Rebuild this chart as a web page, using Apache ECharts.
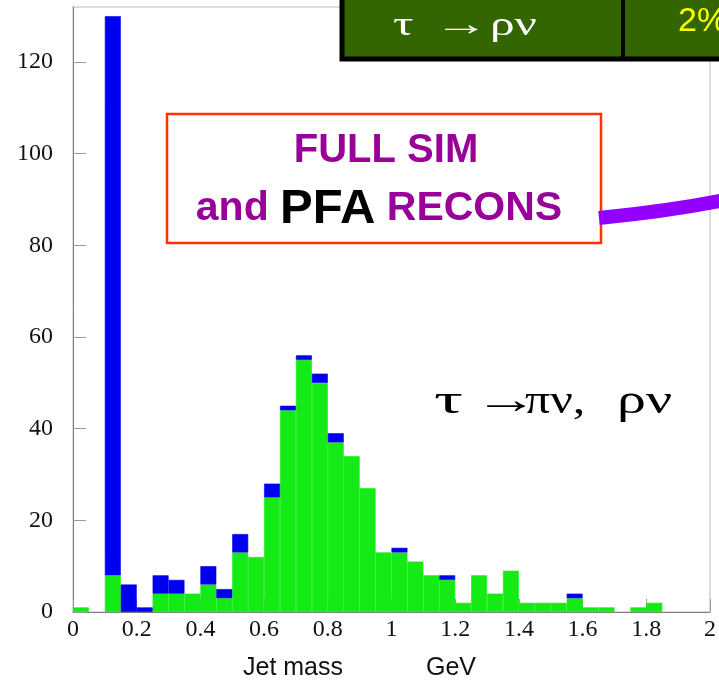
<!DOCTYPE html>
<html>
<head>
<meta charset="utf-8">
<script src="https://cdn.jsdelivr.net/npm/echarts@6/dist/echarts.min.js"></script>
<style>
  html, body { margin: 0; padding: 0; background: #fff; }
  #chart { width: 719px; height: 684px; }
</style>
</head>
<body>
<div id="chart"></div>
<script>
// jet mass bins, 0.05 GeV wide, 0 .. 2 GeV
var binLabels = [];
for (var i = 0; i < 40; i++) { binLabels.push((i * 0.05).toFixed(2)); }

// green = lower part of each bar, blue = part stacked on top
var greenCounts = [1, 0, 8, 0, 0, 4, 4, 4, 6, 3, 13, 12, 25, 44, 55, 50, 37, 34, 27, 13,
                   13, 11, 8, 7, 2, 8, 4, 9, 2, 2, 2, 3, 1, 1, 0, 1, 2, 0, 0, 0];
var blueCounts = [0, 0, 122, 6, 1, 4, 3, 0, 4, 2, 4, 0, 3, 1, 1, 2, 2, 0, 0, 0,
                  1, 0, 0, 1, 0, 0, 0, 0, 0, 0, 0, 1, 0, 0, 0, 0, 0, 0, 0, 0];

var xTicks = [0, 2, 0.2];     // min, max, step (GeV)
var yTicks = [0, 132, 20];    // min, max, step (events)

var chart = echarts.init(document.getElementById('chart'));

var serif = '"Liberation Serif", "Times New Roman", serif';
var sans = '"Liberation Sans", Arial, sans-serif';

// empty bins are left out so their border does not draw a line
function skipEmpty(arr) {
    return arr.map(function (v) { return v === 0 ? '-' : v; });
}

// greek text piece, stretched sideways like the symbol font of the slide
function greek(txt, x, y, size, sx, color) {
    return {
        type: 'text', z: 102, x: x, y: y, scaleX: sx,
        style: {text: txt, fill: color, font: size + 'px ' + serif, align: 'left', verticalAlign: 'middle'}
    };
}

option = {
    animation: false,
    backgroundColor: '#fff',
    grid: {
        left: 73,
        right: 7,
        top: 7,
        bottom: 72,
        show: true,
        borderColor: '#b8b8b8',
        borderWidth: 1
    },
    xAxis: [{
        type: 'category',
        data: binLabels,
        show: false
    }, {
        type: 'value',
        min: xTicks[0],
        max: xTicks[1],
        interval: xTicks[2],
        position: 'bottom',
        splitLine: {show: false},
        axisLine: {show: true, lineStyle: {color: '#808080', width: 1}},
        axisTick: {show: true, inside: true, length: 13, lineStyle: {color: '#999'}},
        axisLabel: {
            margin: 6,
            color: '#111',
            fontFamily: serif,
            fontSize: 24
        }
    }],
    yAxis: {
        type: 'value',
        min: yTicks[0],
        max: yTicks[1],
        interval: yTicks[2],
        splitLine: {show: false},
        axisLine: {show: true, lineStyle: {color: '#808080', width: 1}},
        axisTick: {show: true, inside: true, length: 13, lineStyle: {color: '#999'}},
        axisLabel: {
            margin: 20,
            color: '#111',
            fontFamily: serif,
            fontSize: 24,
            showMaxLabel: false
        }
    },
    series: [{
        name: 'green',
        type: 'bar',
        stack: 'm',
        xAxisIndex: 0,
        data: skipEmpty(greenCounts),
        barCategoryGap: '0%',
        itemStyle: {color: '#14eb14', borderColor: '#14eb14', borderWidth: 0.6}
    }, {
        name: 'blue',
        type: 'bar',
        stack: 'm',
        xAxisIndex: 0,
        data: skipEmpty(blueCounts),
        barCategoryGap: '0%',
        itemStyle: {color: '#0000ee', borderColor: '#0000ee', borderWidth: 0.6}
    }],
    graphic: [
        // table strip at the top
        {
            type: 'rect',
            z: 100,
            shape: {x: 342, y: -10, width: 400, height: 69},
            style: {fill: '#336600', stroke: '#000', lineWidth: 5}
        },
        {
            type: 'line',
            z: 101,
            shape: {x1: 623, y1: 0, x2: 623, y2: 57},
            style: {stroke: '#000', lineWidth: 4}
        },
        greek('τ', 393, 26, 34, 1.5, '#fff'),
        greek('→', 434, 26, 34, 1.6, '#fff'),
        greek('ρν', 490, 26, 34, 1.45, '#fff'),
        {
            type: 'text',
            z: 102,
            x: 678, y: 22,
            style: {text: '2%', fill: '#ffff00', font: '34px ' + sans, align: 'left', verticalAlign: 'middle'}
        },
        // FULL SIM box
        {
            type: 'rect',
            z: 100,
            shape: {x: 167, y: 114, width: 434, height: 129},
            style: {fill: '#fff', stroke: '#ff3300', lineWidth: 2.5}
        },
        {
            type: 'text',
            z: 102,
            x: 386, y: 151,
            style: {text: 'FULL SIM', fill: '#990099', font: 'bold 40px ' + sans, align: 'center', verticalAlign: 'middle'}
        },
        {
            type: 'text',
            z: 102,
            x: 379, y: 209,
            style: {
                text: '{p|and }{k|PFA}{p| RECONS}',
                align: 'center',
                verticalAlign: 'middle',
                rich: {
                    p: {fill: '#990099', fontFamily: sans, fontWeight: 'bold', fontSize: 41},
                    k: {fill: '#000', fontFamily: sans, fontWeight: 'bold', fontSize: 49}
                }
            }
        },
        {
            type: 'bezierCurve',
            z: 101,
            shape: {x1: 599, y1: 218, cpx1: 640, cpy1: 214, cpx2: 690, cpy2: 207, x2: 725, y2: 200},
            style: {stroke: '#9400ff', lineWidth: 14, fill: null}
        },
        // decay label
        greek('τ', 434, 402, 40, 1.8, '#000'),
        greek('→', 474, 402, 40, 1.6, '#000'),
        greek('πν,', 525, 402, 40, 1.25, '#000'),
        greek('ρν', 617, 402, 40, 1.45, '#000'),
        // axis title
        {
            type: 'text',
            z: 102,
            x: 243, y: 668,
            style: {text: 'Jet mass', fill: '#111', font: '25px ' + sans, align: 'left', verticalAlign: 'middle'}
        },
        {
            type: 'text',
            z: 102,
            x: 426, y: 668,
            style: {text: 'GeV', fill: '#111', font: '25px ' + sans, align: 'left', verticalAlign: 'middle'}
        }
    ]
};
chart.setOption(option);
</script>
</body>
</html>
